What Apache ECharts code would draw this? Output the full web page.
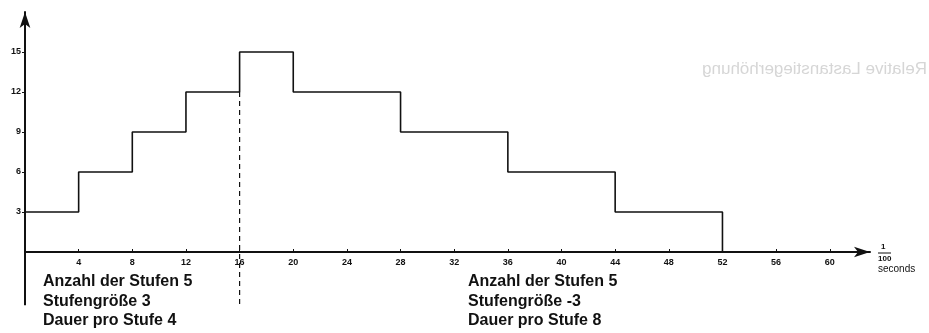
<!DOCTYPE html>
<html>
<head>
<meta charset="UTF-8">
<title>Stufen</title>
<script src="https://cdn.jsdelivr.net/npm/echarts@6/dist/echarts.min.js"></script>
<style>
body { margin: 0; padding: 0; background: #fff; }
#main { width: 929px; height: 333px; }
</style>
</head>
<body>
<div id="main"></div>
<script>
// step points: [time in 1/100 s, level]
var stepTimes = [0, 4, 8, 12, 16, 20, 28, 36, 44, 52];
var stepLevels = [3, 6, 9, 12, 15, 12, 9, 6, 3, 0];
var xTicks = [4, 8, 12, 16, 20, 24, 28, 32, 36, 40, 44, 48, 52, 56, 60];
var yTicks = [3, 6, 9, 12, 15];
var dashTime = 16;
var axisBottom = -4; // axes run a little below zero
var leftNotes = ['Anzahl der Stufen 5', 'Stufengröße 3', 'Dauer pro Stufe 4'];
var rightNotes = ['Anzahl der Stufen 5', 'Stufengröße -3', 'Dauer pro Stufe 8'];

var chart = echarts.init(document.getElementById('main'));

var pts = [];
for (var i = 0; i < stepTimes.length; i++) {
    pts.push([stepTimes[i], stepLevels[i]]);
}

var noteStyle = { fill: '#111', font: 'bold 16px "Liberation Sans", Arial, sans-serif' };
var graphics = [];
function addNotes(list, x) {
    for (var k = 0; k < list.length; k++) {
        graphics.push({
            type: 'text', left: x, top: 274 + k * 19.5,
            style: Object.assign({ text: list[k] }, noteStyle)
        });
    }
}
addNotes(leftNotes, 43);
addNotes(rightNotes, 468);
// unit label at the end of the time axis
graphics.push({ type: 'text', left: 881, top: 243, style: { text: '1', fill: '#111', font: 'bold 8px "Liberation Sans", sans-serif' } });
graphics.push({ type: 'line', shape: { x1: 878, y1: 253, x2: 891, y2: 253 }, style: { stroke: '#111', lineWidth: 1 } });
graphics.push({ type: 'text', left: 878, top: 255, style: { text: '100', fill: '#111', font: 'bold 8px "Liberation Sans", sans-serif' } });
graphics.push({ type: 'text', left: 878, top: 264, style: { text: 'seconds', fill: '#111', font: '10px "Liberation Sans", sans-serif' } });
// faint show-through text from the back of the page
graphics.push({
    type: 'text', x: 927, y: 61, scaleX: -1,
    style: { text: 'Relative Lastanstiegerhöhung', fill: '#d6d6d6', font: '17px "Liberation Sans", sans-serif' }
});

var tickFont = {
    color: '#111',
    fontSize: 9,
    fontWeight: 'bold',
    fontFamily: '"Liberation Sans Narrow", "Liberation Sans", sans-serif'
};

chart.setOption({
    backgroundColor: '#fff',
    animation: false,
    grid: { left: 25, right: 59, top: 12, bottom: 81 },
    xAxis: {
        type: 'value',
        min: 0,
        max: 63,
        axisLine: {
            symbol: ['none', 'arrow'],
            symbolSize: [8, 16],
            lineStyle: { color: '#111', width: 2 }
        },
        axisTick: { customValues: xTicks, inside: true, length: 3, lineStyle: { color: '#111' } },
        axisLabel: Object.assign({ customValues: xTicks, margin: 6 }, tickFont),
        splitLine: { show: false }
    },
    yAxis: {
        type: 'value',
        min: 0,
        max: 18,
        axisLine: {
            show: true,
            symbol: ['none', 'arrow'],
            symbolSize: [8, 16],
            lineStyle: { color: '#111', width: 2 }
        },
        axisTick: { show: true, customValues: yTicks, length: 3, lineStyle: { color: '#111' } },
        axisLabel: Object.assign({ customValues: yTicks, margin: 4 }, tickFont),
        splitLine: { show: false }
    },
    graphic: graphics,
    series: [{
        type: 'line',
        step: 'end',
        data: pts,
        symbol: 'none',
        lineStyle: { color: '#111', width: 1.6 }
    }]
});

// extend the value axis and the dashed marker below the time axis
var origin = chart.convertToPixel({ gridIndex: 0 }, [0, 0]);
var low = chart.convertToPixel({ gridIndex: 0 }, [dashTime, axisBottom]);
var dashTop = chart.convertToPixel({ gridIndex: 0 }, [dashTime, stepLevels[3]]);
chart.setOption({
    graphic: graphics.concat([
        { type: 'line', shape: { x1: origin[0], y1: origin[1], x2: origin[0], y2: low[1] },
          style: { stroke: '#111', lineWidth: 2 } },
        { type: 'line', shape: { x1: dashTop[0], y1: dashTop[1], x2: low[0], y2: low[1] },
          style: { stroke: '#111', lineWidth: 1.2, lineDash: [5, 4] } }
    ])
});
</script>
</body>
</html>
